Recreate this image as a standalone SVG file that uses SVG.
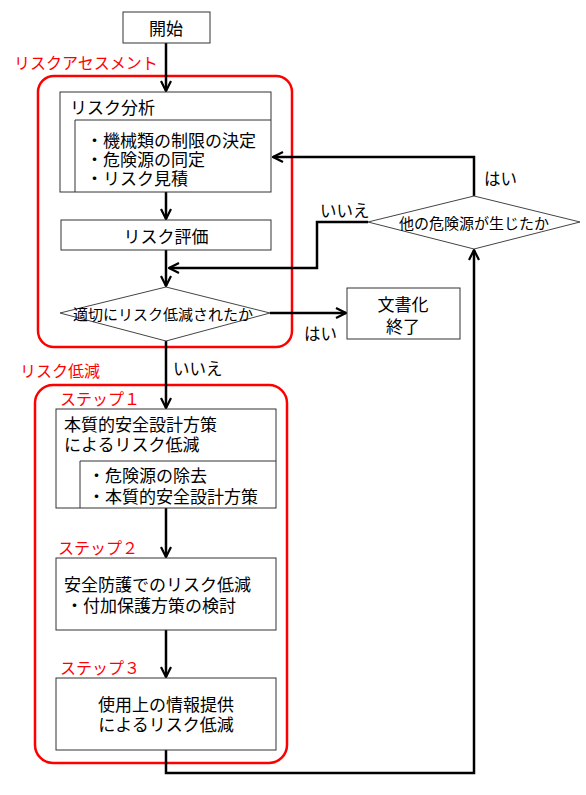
<svg xmlns="http://www.w3.org/2000/svg" width="586" height="795" viewBox="0 0 586 795">
<style>
text{font-family:"Noto Sans CJK JP","Noto Sans CJK SC",sans-serif;font-size:17px;fill:#000;dominant-baseline:central}
.red{fill:#ff0000;font-size:16px}
.c{text-anchor:middle}
.dt{font-size:15px}
.lb{font-size:16.5px}
.box{fill:#fff;stroke:#333;stroke-width:1}
.dia{fill:#fff;stroke:#444;stroke-width:1}
.grp{fill:none;stroke:#ff0000;stroke-width:2.5}
.conn path{fill:none;stroke:#000;stroke-width:2.5}
</style>
<defs>
<marker id="ah" viewBox="0 0 12 12" refX="11" refY="6" markerWidth="12" markerHeight="12" markerUnits="userSpaceOnUse" orient="auto">
<path d="M1,1 L11,6 L1,11" fill="none" stroke="#000" stroke-width="2.2"/>
</marker>
</defs>
<rect width="586" height="795" fill="#fff"/>
<g id="group-assessment">
<rect class="grp" x="38" y="76" width="254" height="271" rx="16"/>
<text class="red" x="14" y="62">リスクアセスメント</text>
</g>
<g id="group-reduction">
<rect class="grp" x="35" y="385" width="252" height="378" rx="18"/>
<text class="red" x="20" y="370">リスク低減</text>
<text class="red" x="60" y="398">ステップ１</text>
<text class="red" x="58" y="547">ステップ２</text>
<text class="red" x="60" y="667">ステップ３</text>
</g>
<g class="conn" id="connectors">
<path d="M166,43 V91" marker-end="url(#ah)"/>
<path d="M166,192 V219" marker-end="url(#ah)"/>
<path d="M166,250 V286" marker-end="url(#ah)"/>
<path d="M166,341 V408" marker-end="url(#ah)"/>
<path d="M166,508 V557" marker-end="url(#ah)"/>
<path d="M166,630 V677" marker-end="url(#ah)"/>
<path d="M166,750 V773 H474 V250" marker-end="url(#ah)"/>
<path d="M474,196 V157 H273" marker-end="url(#ah)"/>
<path d="M368,222 H317 V268 H169" marker-end="url(#ah)"/>
<path d="M270,313 H346" marker-end="url(#ah)"/>
<text class="lb" x="484" y="178">はい</text>
<text class="lb" x="320" y="210">いいえ</text>
<text class="lb" x="304" y="333">はい</text>
<text class="lb" x="173" y="368">いいえ</text>
</g>
<g id="start">
<rect class="box" x="123" y="12" width="87" height="31"/>
<text class="c" x="166" y="27">開始</text>
</g>
<g id="risk-analysis">
<rect class="box" x="60" y="92" width="211" height="100"/>
<path d="M75,192 V120 H271" fill="none" stroke="#333" stroke-width="1"/>
<text x="70" y="106">リスク分析</text>
<text x="86"><tspan x="86" y="139">・機械類の制限の決定</tspan><tspan x="86" y="158">・危険源の同定</tspan><tspan x="86" y="177">・リスク見積</tspan></text>
</g>
<g id="risk-evaluation">
<rect class="box" x="61" y="220" width="210" height="30"/>
<text class="c" x="166" y="235">リスク評価</text>
</g>
<g id="decision-adequate">
<polygon class="dia" points="166,287 270,313 166,341 60,313"/>
<text class="c dt" x="163" y="313">適切にリスク低減されたか</text>
</g>
<g id="document-end">
<rect class="box" x="347" y="288" width="113" height="51"/>
<text class="c" x="403"><tspan x="403" y="303">文書化</tspan><tspan x="403" y="325">終了</tspan></text>
</g>
<g id="decision-other-hazard">
<polygon class="dia" points="474,196 580,222 474,249 368,222"/>
<text class="c dt" x="474" y="222">他の危険源が生じたか</text>
</g>
<g id="step1">
<rect class="box" x="56" y="409" width="220" height="99"/>
<path d="M80,508 V461 H276" fill="none" stroke="#333" stroke-width="1"/>
<text x="64"><tspan x="64" y="423">本質的安全設計方策</tspan><tspan x="64" y="443">によるリスク低減</tspan></text>
<text x="88"><tspan x="88" y="474">・危険源の除去</tspan><tspan x="88" y="495">・本質的安全設計方策</tspan></text>
</g>
<g id="step2">
<rect class="box" x="56" y="558" width="220" height="72"/>
<text x="64"><tspan x="64" y="583">安全防護でのリスク低減</tspan><tspan x="66" y="604">・付加保護方策の検討</tspan></text>
</g>
<g id="step3">
<rect class="box" x="56" y="678" width="220" height="72"/>
<text class="c" x="166"><tspan x="166" y="703">使用上の情報提供</tspan><tspan x="166" y="723">によるリスク低減</tspan></text>
</g>
</svg>
